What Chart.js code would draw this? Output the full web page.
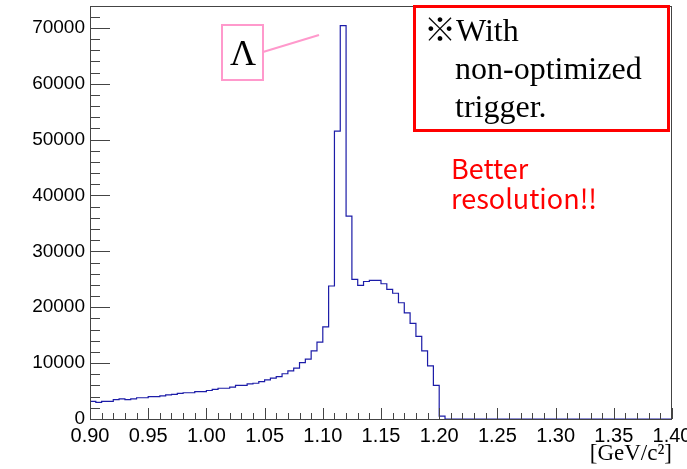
<!DOCTYPE html>
<html>
<head>
<meta charset="utf-8">
<script src="https://cdn.jsdelivr.net/npm/chart.js@4/dist/chart.umd.min.js"></script>
<style>
  html, body { margin: 0; padding: 0; background: #fff; }
  #wrap { width: 687px; height: 469px; }
</style>
</head>
<body>
<div id="wrap"><canvas id="massChart"></canvas></div>
<script>
// invariant mass histogram, 100 bins of 0.005 GeV/c^2 from 0.90 to 1.40
const xMin = 0.90;
const xMax = 1.40;
const binWidth = 0.005;
const counts = [
  3150, 2980, 3150, 3150, 3450, 3600, 3450, 3600, 3800, 3800,
  4000, 4000, 4150, 4300, 4400, 4600, 4700, 4700, 4900, 4900,
  5100, 5300, 5500, 5500, 5700, 6000, 6000, 6300, 6400, 6700,
  7000, 7300, 7600, 8100, 8600, 9100, 10100, 10700, 12200, 13750,
  16500, 23800, 51500, 70400, 36300, 25000, 23900, 24600, 24800, 24800,
  24200, 23200, 22500, 20800, 19000, 17100, 14800, 12200, 9500, 6000,
  500, 0, 0, 0, 0, 0, 0, 0, 0, 0,
  0, 0, 0, 0, 0, 0, 0, 0, 0, 0,
  0, 0, 0, 0, 0, 0, 0, 0, 0, 0,
  0, 0, 0, 0, 0, 0, 0, 0, 0, 0
];
const yMax = 73900;
const xTickLabels = ['0.90','0.95','1.00','1.05','1.10','1.15','1.20','1.25','1.30','1.35','1.40'];
const yTickLabels = ['0','10000','20000','30000','40000','50000','60000','70000'];
const axisTitle = '[GeV/c\u00B2]';
const peakLabel = '\u039B';
const noteLines = ['\u203BWith', 'non-optimized', 'trigger.'];
const commentLines = ['Better', 'resolution!!'];

// step points: left edge of every bin, then the right edge of the last one
const points = counts.map((c, i) => ({ x: xMin + i * binWidth, y: c }));
points.push({ x: xMax, y: counts[counts.length - 1] });

// ROOT style frame with ticks pointing inside, plus the slide annotations
const framePlugin = {
  id: 'framePlugin',
  afterDatasetsDraw(chart) {
    const { ctx, chartArea: a, scales } = chart;
    const xs = scales.x, ys = scales.y;
    ctx.save();
    ctx.strokeStyle = '#444';
    ctx.lineWidth = 1;
    ctx.strokeRect(a.left + 0.5, a.top + 0.5, a.right - a.left - 1, a.bottom - a.top);

    ctx.beginPath();
    for (let v = 0; v <= yMax; v += 2000) {
      const py = Math.round(ys.getPixelForValue(v)) + 0.5;
      const len = v % 10000 === 0 ? 20 : 10;
      ctx.moveTo(a.left, py);
      ctx.lineTo(a.left + len, py);
    }
    for (let k = 0; k <= 50; k++) {
      const px = Math.round(xs.getPixelForValue(xMin + k * 0.01)) + 0.5;
      const len = k % 5 === 0 ? 11 : 6;
      ctx.moveTo(px, a.bottom);
      ctx.lineTo(px, a.bottom - len);
    }
    ctx.stroke();

    // Lambda label
    ctx.strokeStyle = '#ff99cc';
    ctx.lineWidth = 2;
    ctx.strokeRect(222, 25, 41, 55);
    ctx.beginPath();
    ctx.moveTo(263, 52);
    ctx.lineTo(319, 35);
    ctx.stroke();
    ctx.fillStyle = '#000';
    ctx.font = '36px "Liberation Serif"';
    ctx.textAlign = 'center';
    ctx.textBaseline = 'alphabetic';
    ctx.fillText(peakLabel, 243, 65);

    // red note box
    ctx.fillStyle = '#fff';
    ctx.fillRect(413, 5, 257, 127);
    ctx.strokeStyle = '#ff0000';
    ctx.lineWidth = 3;
    ctx.strokeRect(414.5, 6.5, 254, 124);
    ctx.fillStyle = '#000';
    ctx.textAlign = 'left';
    ctx.font = '32px "Liberation Serif", "Noto Sans CJK JP"';
    ctx.fillText(noteLines[0], 424, 41);
    ctx.fillText(noteLines[1], 455, 79);
    ctx.fillText(noteLines[2], 455, 117);

    ctx.fillStyle = '#ff0000';
    ctx.font = '27px "Noto Sans CJK JP"';
    ctx.fillText(commentLines[0], 451, 179);
    ctx.fillText(commentLines[1], 451, 209);
    ctx.restore();
  }
};

new Chart(document.getElementById('massChart'), {
  type: 'line',
  data: {
    datasets: [{
      data: points,
      stepped: 'before',
      borderColor: '#1c1ca8',
      borderWidth: 1.2,
      pointRadius: 0,
      fill: false
    }]
  },
  options: {
    responsive: true,
    maintainAspectRatio: false,
    animation: false,
    layout: { padding: { left: 0, top: 6, right: 15, bottom: 0 } },
    plugins: { legend: { display: false }, tooltip: { enabled: false } },
    scales: {
      x: {
        type: 'linear',
        min: xMin,
        max: xMax,
        grid: { display: false, drawTicks: false },
        border: { display: false },
        afterBuildTicks: (s) => { s.ticks = xTickLabels.map(t => ({ value: Number(t) })); },
        ticks: {
          autoSkip: false,
          maxRotation: 0,
          padding: 5,
          color: '#000',
          font: { family: '"Liberation Sans"', size: 20 },
          callback: (v) => Number(v).toFixed(2)
        },
        title: {
          display: true,
          text: axisTitle,
          align: 'end',
          color: '#000',
          font: { family: '"Liberation Serif"', size: 23 },
          padding: { top: 0, bottom: 1 }
        },
        afterFit: (s) => { s.height = 50; s.paddingLeft = 0; s.paddingRight = 0; }
      },
      y: {
        type: 'linear',
        min: 0,
        max: yMax,
        grid: { display: false, drawTicks: false },
        border: { display: false },
        afterBuildTicks: (s) => { s.ticks = yTickLabels.map(t => ({ value: Number(t) })); },
        ticks: {
          autoSkip: false,
          padding: 5,
          color: '#000',
          font: { family: '"Liberation Sans"', size: 19 },
          callback: (v) => String(Math.round(v))
        },
        afterFit: (s) => { s.width = 90; s.paddingTop = 0; s.paddingBottom = 0; }
      }
    }
  },
  plugins: [framePlugin]
});
</script>
</body>
</html>
